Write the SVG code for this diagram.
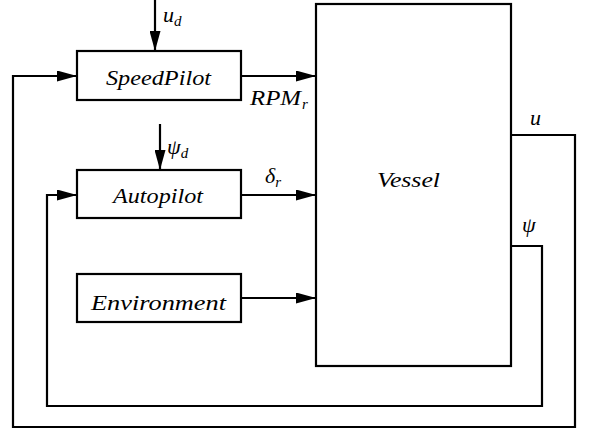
<svg xmlns="http://www.w3.org/2000/svg" width="591" height="437" viewBox="0 0 591 437">
<style>
.box{fill:#fff;stroke:#000;stroke-width:2.2}
.ln{fill:none;stroke:#000;stroke-width:2.2}
.arr{marker-end:url(#ah)}
text{font-family:'Liberation Serif','DejaVu Serif',serif;font-style:italic;fill:#000}
.lbl{font-size:22px}
.sym{font-size:22px}
.sub{font-size:15px}
</style>
<defs>
<marker id="ah" markerUnits="userSpaceOnUse" markerWidth="20" markerHeight="11" refX="20" refY="5.5" orient="auto">
<path d="M0,0 L20,5.5 L0,11 Z" fill="#000"/>
</marker>
</defs>
<rect width="591" height="437" fill="#fff"/>
<g id="connectors">
<path class="ln arr" d="M155,0 V51"/>
<path class="ln arr" d="M160,124 V170"/>
<path class="ln arr" d="M241,76 H316"/>
<path class="ln arr" d="M241,195 H316"/>
<path class="ln arr" d="M241,298 H316"/>
<path class="ln arr" d="M511,135 H575 V427 H13 V76 H77"/>
<path class="ln arr" d="M511,246 H542 V406 H47 V195 H77"/>
</g>
<g id="speedpilot">
<rect class="box" x="77" y="51" width="164" height="49"/>
<text class="lbl" x="106" y="85" textLength="105" lengthAdjust="spacingAndGlyphs">SpeedPilot</text>
</g>
<g id="autopilot">
<rect class="box" x="77" y="170" width="164" height="48"/>
<text class="lbl" x="113" y="203" textLength="90" lengthAdjust="spacingAndGlyphs">Autopilot</text>
</g>
<g id="environment">
<rect class="box" x="77" y="274" width="164" height="48"/>
<text class="lbl" x="91" y="310" textLength="135" lengthAdjust="spacingAndGlyphs">Environment</text>
</g>
<g id="vessel">
<rect class="box" x="316" y="4" width="195" height="362"/>
<text class="lbl" x="377" y="187" textLength="63" lengthAdjust="spacingAndGlyphs">Vessel</text>
</g>
<g id="labels">
<text class="sym" x="163" y="22">u<tspan class="sub" dy="4">d</tspan></text>
<text class="sym" x="250" y="105" textLength="51" lengthAdjust="spacingAndGlyphs">RPM</text>
<text class="sub" x="302" y="109">r</text>
<text class="sym" x="167" y="154">ψ<tspan class="sub" dy="4">d</tspan></text>
<text class="sym" x="265" y="183">δ<tspan class="sub" dy="4">r</tspan></text>
<text class="sym" x="530" y="125">u</text>
<text class="sym" x="522" y="232">ψ</text>
</g>
</svg>
